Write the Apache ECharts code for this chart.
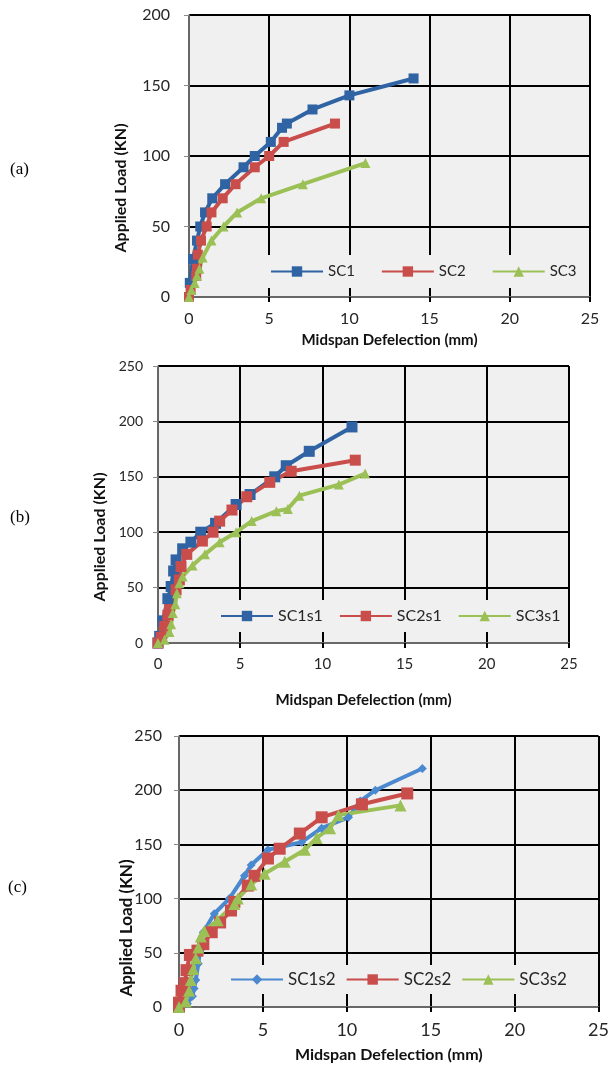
<!DOCTYPE html>
<html>
<head>
<meta charset="utf-8">
<script src="https://cdn.jsdelivr.net/npm/echarts@6/dist/echarts.min.js"></script>
<style>
html, body { margin: 0; padding: 0; background: #fff; }
#chart { width: 612px; height: 1067px; }
</style>
</head>
<body>
<div id="chart"></div>
<script>
// [midspan deflection (mm), applied load (kN)]
// panel (a)
const sc1 = [[0,0],[0.05,10],[0.25,27],[0.5,40],[0.7,50],[1.0,60],[1.45,70],[2.25,80],[3.4,92],[4.1,100],[5.1,110],[5.8,120],[6.1,123],[7.7,133],[10,143],[14,155]];
const sc2 = [[0,0],[0.1,5],[0.45,15],[0.5,20],[0.55,30],[0.75,40],[1.1,50],[1.4,60],[2.1,70],[2.9,80],[4.1,92],[5.0,100],[5.9,110],[9.1,123]];
const sc3 = [[0,0],[0.15,5],[0.35,10],[0.5,15],[0.65,20],[0.85,28],[1.4,40],[2.15,50],[3.0,60],[4.5,70],[7.1,80],[11,95]];
// panel (b)
const sc1s1 = [[0,0],[0.1,6],[0.3,20],[0.6,40],[0.8,51],[0.95,65],[1.1,75],[1.5,85],[2.0,91],[2.6,100],[3.5,108],[4.75,125],[5.6,134],[7.1,150],[7.8,160],[9.2,173],[11.8,195]];
const sc2s1 = [[0,0],[0.2,5],[0.4,15],[0.6,25],[0.7,30],[1.1,48],[1.3,57],[1.4,69],[1.75,80],[2.7,92],[3.35,100],[3.75,110],[4.5,120],[5.4,132],[6.8,145],[8.1,155],[12,165]];
const sc3s1 = [[0,0],[0.4,3],[0.7,10],[0.8,17],[0.9,27],[1.05,35],[1.15,45],[1.3,54],[1.5,60],[2.1,70],[2.85,80],[3.75,91],[4.75,100],[5.7,110],[7.2,119],[7.9,121],[8.6,133],[11,143],[12.6,153]];
// panel (c)
const sc1s2 = [[0,0],[0.5,3],[0.8,10],[0.9,17],[1.0,25],[1.15,40],[1.25,52],[1.45,69],[2.1,86],[3.0,100],[3.9,121],[4.3,131],[5.3,145],[7.3,152],[8.5,165],[10.1,175],[10.8,190],[11.7,200],[14.5,220]];
const sc2s2 = [[0,0],[0,4],[0.15,15],[0.35,22],[0.45,34],[0.65,48],[1.1,52],[1.45,58],[1.95,69],[2.45,78],[3.1,89],[3.3,97],[4.1,112],[4.5,121],[5.3,137],[6.0,146],[7.2,160],[8.5,175],[10.9,187],[13.6,197]];
const sc3s2 = [[0,0],[0.4,5],[0.6,15],[0.7,25],[0.85,35],[1.0,45],[1.15,55],[1.3,65],[1.5,70],[2.3,80],[3.3,95],[3.5,100],[4.3,113],[5.1,123],[6.3,134],[7.5,145],[8.2,156],[9.0,165],[9.5,177],[13.2,186]];

const xMax = 25, xStep = 5;
const yMaxes = [200, 250, 250];
const yStep = 50;

const blue = '#2f63a3', blueLight = '#4a89cf', red = '#c84d4b', green = '#9bc056';
const font = 'Lato';

const grids = [
    { left: 189, top: 15, width: 401, height: 282, show: true, backgroundColor: '#f0f0f0', borderWidth: 0 },
    { left: 158, top: 366, width: 411, height: 277, show: true, backgroundColor: '#f0f0f0', borderWidth: 0 },
    { left: 179, top: 736, width: 421, height: 271, show: true, backgroundColor: '#f0f0f0', borderWidth: 0 }
];

const xLabelSize = [16, 15, 18];
const yLabelSize = [16, 14, 16];
const nameGaps = [36, 50, 40];
const nameSizes = [15, 15, 16];
const yMargins = [19, 15, 17];

const xAxes = grids.map((g, i) => ({
    type: 'value', gridIndex: i, min: 0, max: xMax, interval: xStep,
    name: 'Midspan Defelection (mm)', nameLocation: 'middle', nameGap: nameGaps[i],
    nameTextStyle: { fontFamily: font, fontWeight: 'bold', fontSize: nameSizes[i], color: '#111' },
    axisLine: { lineStyle: { color: '#8a8a8a', width: 1.5 } },
    axisTick: { show: true, length: 5, lineStyle: { color: '#000', width: 2 } },
    axisLabel: { fontFamily: font, fontSize: xLabelSize[i], color: '#262626', margin: 14 },
    splitLine: { show: true, lineStyle: { color: '#000', width: 2 } }
}));

const yAxes = grids.map((g, i) => ({
    type: 'value', gridIndex: i, min: 0, max: yMaxes[i], interval: yStep,
    axisLine: { show: true, lineStyle: { color: '#8a8a8a', width: 1.5 } },
    axisTick: { show: true, length: 5, lineStyle: { color: '#8a8a8a' } },
    axisLabel: { fontFamily: font, fontSize: yLabelSize[i], color: '#262626', margin: yMargins[i] },
    splitLine: { show: true, lineStyle: { color: '#000', width: 2 } }
}));

function line(name, data, idx, color, symbol, size) {
    return {
        name: name, type: 'line', data: data, xAxisIndex: idx, yAxisIndex: idx,
        symbol: symbol, symbolSize: size, showAllSymbol: true,
        lineStyle: { color: color, width: 4 },
        itemStyle: { color: color },
        animation: false
    };
}

const series = [
    line('SC1', sc1, 0, blue, 'rect', 10),
    line('SC2', sc2, 0, red, 'rect', 10),
    line('SC3', sc3, 0, green, 'triangle', 10),
    line('SC1s1', sc1s1, 1, blue, 'rect', 11),
    line('SC2s1', sc2s1, 1, red, 'rect', 11),
    line('SC3s1', sc3s1, 1, green, 'triangle', 10),
    line('SC1s2', sc1s2, 2, blueLight, 'diamond', 9),
    line('SC2s2', sc2s2, 2, red, 'rect', 12),
    line('SC3s2', sc3s2, 2, green, 'triangle', 12)
];

function legend(names, left, top, gap, size, pad) {
    return {
        data: names, left: left, top: top, itemGap: gap, itemWidth: 52, itemHeight: 13,
        backgroundColor: '#f0f0f0', padding: pad, z: 10,
        textStyle: { fontFamily: font, fontSize: size, color: '#262626' }
    };
}

const legends = [
    legend(['SC1', 'SC2', 'SC3'], 265, 255, 26, 15, [9, 5, 9, 5]),
    legend(['SC1s1', 'SC2s1', 'SC3s1'], 215, 600, 16, 16, [8, 5, 8, 5]),
    legend(['SC1s2', 'SC2s2', 'SC3s2'], 225, 965, 10, 17, [6, 5, 6, 5])
];

function yTitle(x, y, size) {
    return {
        type: 'text', x: x, y: y, rotation: Math.PI / 2,
        style: { text: 'Applied Load (KN)', fontFamily: font, fontWeight: 'bold', fontSize: size,
                 fill: '#111', align: 'center', verticalAlign: 'middle' }
    };
}

function tag(text, x, y) {
    return {
        type: 'text', x: x, y: y,
        style: { text: text, fontFamily: 'Liberation Serif', fontSize: 17, fill: '#000', verticalAlign: 'middle' }
    };
}

const chart = echarts.init(document.getElementById('chart'));
chart.setOption({
    backgroundColor: '#fff',
    animation: false,
    grid: grids,
    xAxis: xAxes,
    yAxis: yAxes,
    legend: legends,
    series: series,
    graphic: [
        yTitle(121, 188, 16), yTitle(100, 537, 16), yTitle(127, 928, 17),
        tag('(a)', 10, 170), tag('(b)', 10, 518), tag('(c)', 8, 888)
    ]
});
</script>
</body>
</html>
